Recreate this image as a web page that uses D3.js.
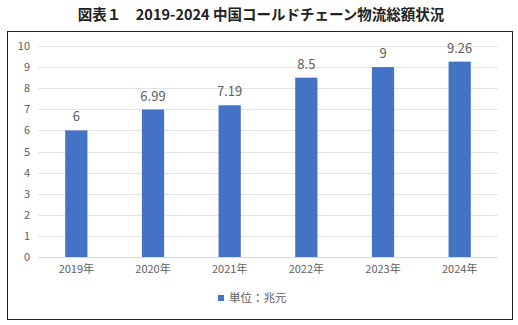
<!DOCTYPE html>
<html>
<head>
<meta charset="utf-8">
<script src="https://cdn.jsdelivr.net/npm/d3@7"></script>
<style>
  html, body { margin: 0; padding: 0; background: #fff; }
  svg { display: block; }
</style>
</head>
<body>
<svg id="chart" width="518" height="325"></svg>
<script>
// Cold-chain logistics total, 2019–2024 (unit: trillion yuan)
const categories = ["2019年", "2020年", "2021年", "2022年", "2023年", "2024年"];
const values = [6, 6.99, 7.19, 8.5, 9, 9.26];
const yTicks = [0, 1, 2, 3, 4, 5, 6, 7, 8, 9, 10];
const titleText = "図表１　2019-2024 中国コールドチェーン物流総額状況";
const legendLabel = "単位：兆元";

const svg = d3.select("#chart");
const font = "'Noto Sans CJK JP', 'Noto Sans', sans-serif";
const gray = "#606060";
const barColor = "#4472C4";

// Title
svg.append("text")
  .attr("x", 261).attr("y", 20)
  .attr("text-anchor", "middle")
  .attr("font-family", font)
  .attr("font-size", 14.5)
  .attr("font-weight", "bold")
  .attr("fill", "#222")
  .text(titleText);

// Chart frame
svg.append("rect")
  .attr("x", 7.5).attr("y", 31.5)
  .attr("width", 505).attr("height", 288)
  .attr("fill", "none")
  .attr("stroke", "#222")
  .attr("stroke-width", 1);

const plot = { left: 38, right: 498, top: 46, bottom: 257 };

const x = d3.scaleBand()
  .domain(categories)
  .range([plot.left, plot.right])
  .paddingInner(0.71)
  .paddingOuter(0.355);

const y = d3.scaleLinear()
  .domain([0, 10])
  .range([plot.bottom, plot.top]);

// Gridlines
svg.append("g")
  .selectAll("line")
  .data(yTicks)
  .join("line")
  .attr("x1", plot.left).attr("x2", plot.right)
  .attr("y1", d => Math.round(y(d)) + 0.5)
  .attr("y2", d => Math.round(y(d)) + 0.5)
  .attr("stroke", "#e3e3e3")
  .attr("stroke-width", 1);

// Y axis labels
const yAxis = d3.axisLeft(y).tickValues(yTicks).tickSize(0).tickPadding(0).tickFormat(d3.format("d"));
svg.append("g")
  .attr("transform", `translate(${plot.left - 8},0)`)
  .call(yAxis)
  .call(g => g.select(".domain").remove())
  .call(g => g.selectAll("text")
    .attr("font-family", font)
    .attr("font-size", 11)
    .attr("fill", gray));

// Bars
svg.append("g")
  .selectAll("rect")
  .data(values)
  .join("rect")
  .attr("x", (d, i) => x(categories[i]))
  .attr("y", d => y(d))
  .attr("width", x.bandwidth())
  .attr("height", d => y(0) - y(d))
  .attr("fill", barColor);

// Value labels
svg.append("g")
  .selectAll("text")
  .data(values)
  .join("text")
  .attr("x", (d, i) => x(categories[i]) + x.bandwidth() / 2)
  .attr("y", d => y(d) - 9)
  .attr("text-anchor", "middle")
  .attr("font-family", font)
  .attr("font-size", 13)
  .attr("fill", gray)
  .text(d => d);

// Baseline
svg.append("line")
  .attr("x1", plot.left).attr("x2", plot.right)
  .attr("y1", plot.bottom + 0.5).attr("y2", plot.bottom + 0.5)
  .attr("stroke", "#d9d9d9");

// X axis labels
const xAxis = d3.axisBottom(x).tickSize(0).tickPadding(0);
svg.append("g")
  .attr("transform", `translate(0,${plot.bottom + 8})`)
  .call(xAxis)
  .call(g => g.select(".domain").remove())
  .call(g => g.selectAll("text")
    .attr("font-family", font)
    .attr("font-size", 11)
    .attr("fill", gray));

// Legend
const legend = svg.append("g").attr("transform", "translate(218,298)");
legend.append("rect")
  .attr("x", 0).attr("y", -3)
  .attr("width", 6).attr("height", 6)
  .attr("fill", barColor);
legend.append("text")
  .attr("x", 11).attr("y", 0)
  .attr("dy", "0.35em")
  .attr("font-family", font)
  .attr("font-size", 11.5)
  .attr("fill", gray)
  .text(legendLabel);
</script>
</body>
</html>
